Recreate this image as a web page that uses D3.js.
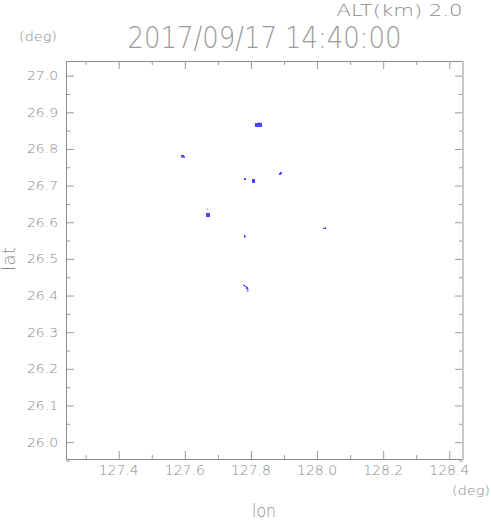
<!DOCTYPE html>
<html>
<head>
<meta charset="utf-8">
<script src="https://cdn.jsdelivr.net/npm/d3@7"></script>
<style>
  body { margin: 0; background: #fff; }
  text { font-family: "DejaVu Sans", sans-serif; font-weight: 200; fill: #8a8a8a; }
  .domain { display: none; }
</style>
</head>
<body>
<div id="chart"></div>
<script>
var W = 491, H = 521;

// axis ranges and ticks (deg)
var lonRange = [127.2406, 128.4414];
var latRange = [25.954, 27.040];
var lonMajor = [127.4, 127.6, 127.8, 128.0, 128.2, 128.4];
var lonMinor = [127.3, 127.5, 127.7, 127.9, 128.1, 128.3];
var latMajor = [26.0, 26.1, 26.2, 26.3, 26.4, 26.5, 26.6, 26.7, 26.8, 26.9, 27.0];
var latMinor = [25.95, 26.05, 26.15, 26.25, 26.35, 26.45, 26.55, 26.65, 26.75, 26.85, 26.95];

var title = "2017/09/17 14:40:00";
var altLabel = "ALT(km) 2.0";

// echo cells: [lon0, lat0, lon1, lat1]
var echoCells = [
  [127.8123, 26.8600, 127.8335, 26.8709],
  [127.8230, 26.8709, 127.8260, 26.8730],
  [127.5885, 26.7765, 127.5980, 26.7836],
  [127.5950, 26.7760, 127.6006, 26.7800],
  [127.7790, 26.7154, 127.7851, 26.7209],
  [127.8032, 26.7072, 127.8123, 26.7181],
  [127.8849, 26.7290, 127.8910, 26.7345],
  [127.8880, 26.7320, 127.8940, 26.7372],
  [127.6662, 26.6345, 127.6692, 26.6372],
  [127.6641, 26.6145, 127.6762, 26.6254],
  [128.0180, 26.5818, 128.0271, 26.5845],
  [128.0240, 26.5818, 128.0271, 26.5872],
  [127.7790, 26.5572, 127.7821, 26.5654],
  [127.7790, 26.5600, 127.7851, 26.5627],
  [127.7760, 26.4260, 127.7820, 26.4290],
  [127.7810, 26.4235, 127.7870, 26.4265],
  [127.7850, 26.4180, 127.7910, 26.4235],
  [127.7890, 26.4100, 127.7920, 26.4200]
];

var svg = d3.select("#chart").append("svg")
    .attr("width", W)
    .attr("height", H);

var pL = 66, pT = 61, pR = 463, pB = 459;

var x = d3.scaleLinear().domain(lonRange).range([pL, pR]);
var y = d3.scaleLinear().domain(latRange).range([pB, pT]);

// echoes
svg.append("g").selectAll("rect")
    .data(echoCells)
    .enter().append("rect")
    .attr("x", function(d) { return x(d[0]); })
    .attr("y", function(d) { return y(d[3]); })
    .attr("width", function(d) { return Math.max(1, x(d[2]) - x(d[0])); })
    .attr("height", function(d) { return Math.max(1, y(d[1]) - y(d[3])); })
    .attr("fill", "#4646ff");

// ticks, all four sides, pointing inward
function ticks(axis, vals, size, tr) {
  var g = svg.append("g")
    .attr("transform", tr)
    .call(axis.tickValues(vals).tickSize(size).tickFormat(""));
  g.selectAll(".tick line").attr("stroke", "#9a9a9a");
  return g;
}
ticks(d3.axisBottom(x), lonMajor, -8, "translate(0," + pB + ")");
ticks(d3.axisBottom(x), lonMinor, -4, "translate(0," + pB + ")");
ticks(d3.axisTop(x), lonMajor, -8, "translate(0," + pT + ")");
ticks(d3.axisTop(x), lonMinor, -4, "translate(0," + pT + ")");
ticks(d3.axisLeft(y), latMajor, -8, "translate(" + pL + ",0)");
ticks(d3.axisLeft(y), latMinor, -4, "translate(" + pL + ",0)");
ticks(d3.axisRight(y), latMajor, -8, "translate(" + pR + ",0)");
ticks(d3.axisRight(y), latMinor, -4, "translate(" + pR + ",0)");

// frame
svg.append("path")
    .attr("d", "M" + pR + "," + (pT + 0.5) + "H" + (pL + 0.5) + "V" + (pB + 0.5) + "H" + pR)
    .attr("fill", "none").attr("stroke", "#8c8c8c").attr("stroke-width", 1);
svg.append("line")
    .attr("x1", pR).attr("x2", pR).attr("y1", pT).attr("y2", pB + 1)
    .attr("stroke", "#c8c8c8").attr("stroke-width", 2);

// tick labels
svg.append("g").selectAll("text")
    .data(latMajor)
    .enter().append("text")
    .attr("x", pL - 8)
    .attr("y", function(d) { return y(d) + 4.5; })
    .attr("text-anchor", "end")
    .attr("font-size", 12.5)
    .attr("textLength", 31)
    .attr("lengthAdjust", "spacingAndGlyphs")
    .text(function(d) { return d3.format(".1f")(d); });

svg.append("g").selectAll("text")
    .data(lonMajor)
    .enter().append("text")
    .attr("x", function(d) { return x(d); })
    .attr("y", 475)
    .attr("text-anchor", "middle")
    .attr("font-size", 13.5)
    .attr("textLength", 40)
    .attr("lengthAdjust", "spacingAndGlyphs")
    .text(function(d) { return d3.format(".1f")(d); });

// titles and units
function label(txt, px, py, size, len, anchor) {
  return svg.append("text")
    .attr("x", px).attr("y", py)
    .attr("font-size", size)
    .attr("text-anchor", anchor || "start")
    .attr("textLength", len)
    .attr("lengthAdjust", "spacingAndGlyphs")
    .text(txt);
}
label(title, 127.5, 47.7, 29.5, 274).style("fill", "#9a9a9a");
label(altLabel, 336.5, 15.7, 15, 126);
label("(deg)", 19, 41, 12, 38);
label("(deg)", 452, 495, 12, 38);
label("lon", 252, 516.5, 17, 24);

svg.append("text")
    .attr("transform", "translate(15,259) rotate(-90)")
    .attr("text-anchor", "middle")
    .attr("font-size", 17)
    .attr("textLength", 24)
    .attr("lengthAdjust", "spacingAndGlyphs")
    .text("lat");
</script>
</body>
</html>
